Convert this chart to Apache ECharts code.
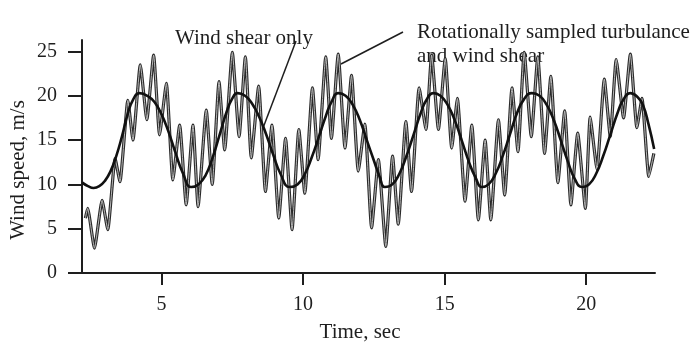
<!DOCTYPE html>
<html>
<head>
<meta charset="utf-8">
<script src="https://cdn.jsdelivr.net/npm/echarts@6/dist/echarts.min.js"></script>
<style>
html,body{margin:0;padding:0;background:#fff;}
#chart{width:696px;height:344px;}
</style>
</head>
<body>
<div id="chart"></div>
<script>
// Axis ticks
const xTicks = [5, 10, 15, 20];
const yTicks = [0, 5, 10, 15, 20, 25];

// Wind shear only (smooth curve), [time s, speed m/s]
const windShear = [
  [2.2,10.2],[2.4,9.8],[2.6,9.6],[2.8,9.8],[3.0,10.4],[3.2,11.5],[3.4,13.2],[3.6,15.4],[3.8,17.9],[4.0,19.6],[4.22,20.3],
  [4.5,20.0],[4.75,19.3],[5.0,17.9],[5.25,15.9],[5.5,13.5],[5.75,11.3],[6.05,9.7],
  [6.3,10.0],[6.55,11.0],[6.8,13.0],[7.05,15.6],[7.3,18.2],[7.5,19.7],[7.68,20.3],
  [7.95,20.0],[8.2,19.1],[8.45,17.6],[8.7,15.6],[8.95,13.3],[9.2,11.2],[9.53,9.7],
  [9.8,10.0],[10.05,11.1],[10.3,13.0],[10.55,15.3],[10.8,17.7],[11.0,19.3],[11.24,20.3],
  [11.5,20.0],[11.75,19.0],[12.0,17.3],[12.25,15.0],[12.5,12.7],[12.7,10.9],[12.89,9.7],
  [13.15,10.0],[13.4,11.2],[13.65,13.2],[13.9,15.6],[14.15,18.0],[14.35,19.5],[14.6,20.3],
  [14.85,20.0],[15.1,19.0],[15.35,17.3],[15.6,15.0],[15.85,12.6],[16.1,10.7],[16.31,9.7],
  [16.55,10.0],[16.8,11.2],[17.05,13.2],[17.3,15.6],[17.55,18.0],[17.8,19.6],[18.08,20.3],
  [18.35,20.0],[18.6,19.0],[18.85,17.3],[19.1,15.0],[19.35,12.6],[19.6,10.6],[19.85,9.7],
  [20.1,10.0],[20.35,11.2],[20.6,13.2],[20.85,15.6],[21.1,18.0],[21.3,19.5],[21.56,20.3],
  [21.8,19.9],[22.0,19.0],[22.2,16.8],[22.4,14.0]
];

// Rotationally sampled turbulence and wind shear, [time s, speed m/s]
const turbulence = [
  [2.31,6.2],[2.39,7.3],[2.63,2.8],[2.90,8.2],[3.10,4.9],[3.36,12.9],[3.53,10.3],[3.81,19.5],[3.99,15.0],
  [4.25,23.5],[4.48,17.3],[4.72,24.6],[4.93,15.6],[5.17,21.4],[5.40,10.5],[5.64,16.7],[5.87,7.7],
  [6.11,16.7],[6.29,7.5],[6.58,18.4],[6.79,10.0],[7.03,21.6],[7.23,13.9],[7.50,24.9],[7.74,15.4],
  [7.96,24.4],[8.17,13.0],[8.43,21.1],[8.67,9.2],[8.90,16.7],[9.14,6.2],[9.38,15.2],[9.61,4.9],
  [9.85,16.2],[10.06,9.0],[10.33,20.9],[10.53,12.8],[10.80,24.4],[11.0,15.2],[11.24,24.7],[11.48,14.1],
  [11.71,22.3],[11.95,11.5],[12.18,16.8],[12.42,5.1],[12.66,12.8],[12.92,3.0],[13.16,13.2],[13.36,5.5],
  [13.63,17.1],[13.83,9.2],[14.10,20.9],[14.34,16.2],[14.54,24.6],[14.78,16.2],[15.02,24.2],[15.25,14.1],
  [15.45,19.7],[15.72,8.1],[15.96,16.7],[16.19,6.0],[16.43,15.0],[16.63,6.0],[16.90,17.3],[17.12,8.8],
  [17.38,20.9],[17.59,13.7],[17.81,24.9],[18.06,15.4],[18.29,24.4],[18.53,13.5],[18.75,22.2],[19.0,10.2],
  [19.24,18.3],[19.46,7.7],[19.70,15.8],[19.97,7.3],[20.14,17.6],[20.38,11.7],[20.64,21.9],[20.85,15.4],
  [21.06,24.1],[21.32,17.5],[21.56,24.7],[21.79,16.4],[21.97,19.7],[22.21,10.9],[22.39,13.5]
];

const FONT = "'Liberation Serif', 'DejaVu Serif', serif";
const INK = '#1e1e1e';

const chart = echarts.init(document.getElementById('chart'), null, {renderer: 'canvas'});
chart.setOption({
  animation: false,
  backgroundColor: '#ffffff',
  grid: {left: 82, right: 41, top: 40, bottom: 71},
  xAxis: {
    type: 'value', min: 2.19, max: 22.43,
    splitLine: {show: false},
    axisLine: {show: true, onZero: false, lineStyle: {color: INK, width: 2}},
    axisTick: {show: true, customValues: xTicks, length: 12, lineStyle: {color: INK, width: 2}},
    axisLabel: {customValues: xTicks, fontFamily: FONT, fontSize: 20, color: INK, margin: 22}
  },
  yAxis: {
    type: 'value', min: 0, max: 26.3,
    splitLine: {show: false},
    axisLine: {show: true, onZero: false, lineStyle: {color: INK, width: 2}},
    axisTick: {show: true, customValues: yTicks, length: 14, lineStyle: {color: INK, width: 2}},
    axisLabel: {customValues: yTicks, fontFamily: FONT, fontSize: 20, color: INK, margin: 25}
  },
  series: [
    {
      name: 'Rotationally sampled turbulance and wind shear', type: 'line', data: turbulence,
      showSymbol: false, smooth: 0.15, z: 2,
      lineStyle: {color: '#2a2a2a', width: 3.2}
    },
    {
      name: 'turbulence core', type: 'line', data: turbulence,
      showSymbol: false, smooth: 0.15, z: 3,
      lineStyle: {color: '#b8b8b8', width: 1}
    },
    {
      name: 'Wind shear only', type: 'line', data: windShear,
      showSymbol: false, smooth: true, z: 4,
      lineStyle: {color: '#111', width: 2.6}
    }
  ],
  graphic: [
    {type: 'text', x: 175, y: 28, style: {text: 'Wind shear only', font: '21px ' + FONT, fill: INK, textVerticalAlign: 'alphabetic'}},
    {type: 'text', x: 417, y: 22, style: {text: 'Rotationally sampled turbulance', font: '21px ' + FONT, fill: INK, textVerticalAlign: 'alphabetic'}},
    {type: 'text', x: 417, y: 46, style: {text: 'and wind shear', font: '21px ' + FONT, fill: INK, textVerticalAlign: 'alphabetic'}},
    {type: 'line', shape: {x1: 296, y1: 41, x2: 263, y2: 128}, style: {stroke: INK, lineWidth: 1.5}},
    {type: 'line', shape: {x1: 403, y1: 32, x2: 341, y2: 64}, style: {stroke: INK, lineWidth: 1.5}},
    {type: 'text', x: 360, y: 332, style: {text: 'Time, sec', font: '21px ' + FONT, fill: INK, textAlign: 'center', textVerticalAlign: 'middle'}},
    {type: 'text', x: 18, y: 170, rotation: Math.PI / 2, style: {text: 'Wind speed, m/s', font: '21px ' + FONT, fill: INK, textAlign: 'center', textVerticalAlign: 'middle'}}
  ]
});
</script>
</body>
</html>
